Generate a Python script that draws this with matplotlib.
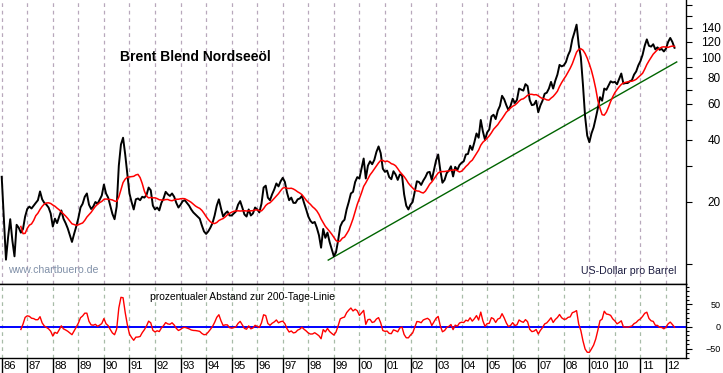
import matplotlib
matplotlib.use("Agg")
import matplotlib.pyplot as plt
import numpy as np
import pandas as pd
from matplotlib.ticker import FixedLocator, NullFormatter

plt.rcParams["font.family"] = ["Liberation Sans", "DejaVu Sans"]

# Brent monthly closes (USD/barrel), Jan 1986 .. May 2012
start_year = 1986
brent_close = [
    26.5, 16.5, 10.5, 13.5, 16.5, 13.0, 10.9, 15.5, 15.0, 14.2, 14.8, 17.0,  # 86
    18.5, 19.0, 18.6, 19.2, 19.8, 20.4, 22.5, 20.6, 19.8, 19.4, 18.8, 17.6,  # 87
    15.2, 16.6, 15.8, 17.0, 18.2, 16.6, 15.8, 14.9, 13.8, 12.8, 14.0, 15.2,  # 88
    16.7, 18.8, 19.6, 21.2, 22.0, 19.4, 18.5, 19.0, 20.0, 19.6, 20.5, 21.5,  # 89
    24.3, 22.0, 21.0, 19.2, 17.5, 16.5, 19.0, 30.0, 38.0, 41.0, 34.0, 27.5,  # 90
    22.0, 20.0, 18.4, 20.6, 20.8, 20.4, 21.2, 21.0, 21.6, 23.5, 22.8, 19.2,  # 91
    18.4, 18.8, 18.2, 19.8, 20.8, 22.4, 21.8, 21.4, 22.0, 21.2, 19.8, 18.8,  # 92
    19.4, 20.2, 20.4, 19.8, 19.2, 18.4, 17.8, 17.4, 17.0, 16.6, 15.4, 14.4,  # 93
    14.0, 14.4, 15.0, 15.8, 17.2, 19.2, 20.6, 18.6, 17.0, 17.6, 18.0, 17.2,  # 94
    17.2, 17.6, 18.0, 19.4, 20.2, 18.8, 17.4, 17.0, 18.4, 17.2, 17.6, 18.8,  # 95
    18.4, 17.8, 19.6, 23.5, 24.0, 21.0, 20.4, 21.8, 23.0, 24.6, 23.8, 25.2,  # 96
    26.2, 25.0, 22.2, 20.4, 21.0, 19.8, 19.8, 20.6, 20.8, 21.4, 19.8, 18.4,  # 97
    17.0, 16.2, 15.8, 16.0, 15.0, 13.8, 12.0, 14.8, 13.4, 14.2, 12.8, 11.8,  # 98
    10.9, 11.4, 13.0, 15.2, 16.0, 16.4, 18.4, 20.0, 22.0, 22.4, 25.0, 26.4,  # 99
    26.0, 29.0, 32.5, 26.0, 30.0, 31.5, 30.5, 32.0, 35.0, 37.2, 34.5, 29.0,  # 00
    28.0, 28.4, 26.4, 25.8, 28.2, 27.2, 25.6, 27.2, 27.0, 21.8, 19.2, 18.4,  # 01
    19.4, 20.0, 22.5, 25.2, 25.0, 24.2, 25.4, 26.4, 27.8, 28.0, 25.6, 28.6,  # 02
    31.8, 34.0, 28.5, 24.8, 25.6, 27.6, 28.4, 29.8, 26.6, 29.6, 28.6, 30.2,  # 03
    31.0, 31.5, 34.0, 34.2, 37.5, 35.8, 39.0, 43.0, 41.0, 50.0, 44.0, 40.0,  # 04
    43.5, 45.0, 52.0, 53.0, 50.5, 55.5, 58.5, 65.5, 63.0, 59.0, 55.8, 58.6,  # 05
    63.4, 60.4, 62.6, 71.0, 70.2, 69.4, 74.6, 73.0, 62.4, 59.0, 59.4, 62.0,  # 06
    54.5, 58.8, 62.0, 67.0, 67.8, 71.0, 76.5, 71.0, 77.5, 83.0, 92.5, 91.0,  # 07
    92.0, 95.5, 103.0, 108.5, 123.0, 133.0, 145.0, 116.0, 101.0, 74.0, 52.0, 42.0,  # 08
    39.0, 43.0, 46.0, 51.0, 57.0, 64.5, 62.0, 71.0, 70.0, 73.5, 77.0, 76.0,  # 09
    76.5, 74.5, 79.0, 84.0, 75.0, 75.5, 75.5, 77.0, 78.0, 83.0, 86.0, 92.0,  # 10
    96.5, 103.5, 114.5, 123.0, 114.5, 113.5, 116.5, 110.0, 112.5, 109.5, 110.5, 107.5,  # 11
    111.0, 119.5, 125.0, 119.5, 112.0,  # 12
]
ma_window = 10  # months, ~200 trading days

# long-term support line (start / end)
trend_years = [1998.78, 2012.42]
trend_prices = [10.45, 95.6]

year_labels = ["86", "87", "88", "89", "90", "91", "92", "93", "94", "95",
               "96", "97", "98", "99", "00", "01", "02", "03", "04", "05",
               "06", "07", "08", "010", "10", "11", "12"]
price_ticks = [20, 40, 60, 80, 100, 120, 140]
price_minor = [10, 30, 50, 70, 90, 160, 180]
osc_ticks = [-50, 0, 50]

t = start_year + np.arange(len(brent_close)) / 12.0
price = pd.Series(brent_close)
ma200 = price.rolling(ma_window).mean()
osc = (price / ma200 - 1.0) * 100.0
years = np.arange(start_year, start_year + len(year_labels))

fig = plt.figure(figsize=(7.23, 3.73), dpi=100)
fig.patch.set_facecolor("white")
ax = fig.add_axes([0, 0.2386, 686 / 723, 0.7614])
ax2 = fig.add_axes([0, 0.0389, 686 / 723, 0.1997], sharex=ax)

# --- price panel
for yr in years:
    ax.axvline(yr, color="#b8a8bc", lw=0.9, ls=(0, (3, 3)), zorder=0)
ax.plot(t, price, color="black", lw=1.4, zorder=3)
ax.plot(t, ma200, color="#ff0000", lw=1.1, zorder=4)
ax.plot(trend_years, trend_prices, color="#006400", lw=1.0, zorder=2)

ax.set_yscale("log")
ax.set_ylim(8.0, 191)
ax.set_xlim(1985.933, 2012.783)
ax.yaxis.tick_right()
ax.yaxis.set_major_locator(FixedLocator(price_ticks))
ax.yaxis.set_minor_locator(FixedLocator(price_minor))
ax.yaxis.set_major_formatter(plt.FuncFormatter(lambda v, p: f"{v:g}"))
ax.yaxis.set_minor_formatter(NullFormatter())
ax.tick_params(axis="y", which="major", length=4, width=0.8, pad=21,
               labelsize=8.5, direction="out")
ax.tick_params(axis="y", which="minor", length=4, width=0.8, direction="out")
for lab in ax.get_yticklabels():
    lab.set_horizontalalignment("right")
ax.tick_params(axis="x", which="both", bottom=False, labelbottom=False)
for side in ("left", "top"):
    ax.spines[side].set_visible(False)
ax.spines["right"].set_linewidth(1.0)
ax.spines["bottom"].set_linewidth(1.0)

ax.text(0.175, 0.80, "Brent Blend Nordseeöl", transform=ax.transAxes,
        fontsize=10, fontweight="bold", ha="left", va="center")
ax.text(0.012, 0.049, "www.chartbuero.de", transform=ax.transAxes,
        fontsize=7.6, color="#8090a8", ha="left", va="center")
ax.text(0.9854, 0.046, "US-Dollar pro Barrel", transform=ax.transAxes,
        fontsize=7.6, color="#1c1c40", ha="right", va="center")

# --- oscillator panel
for yr in years:
    ax2.axvline(yr, color="#a8bca8", lw=0.9, ls=(0, (3, 3)), zorder=0)
ax2.axhline(0, color="#0000ff", lw=1.4, zorder=2)
ax2.plot(t, osc, color="#ff0000", lw=1.0, zorder=3)
ax2.set_ylim(-72, 96)
ax2.yaxis.tick_right()
ax2.yaxis.set_major_locator(FixedLocator(osc_ticks))
ax2.yaxis.set_minor_locator(FixedLocator([-70, -60, -40, -30, -20, -10, 10, 20, 30, 40, 60, 70, 80, 90]))
ax2.yaxis.set_minor_formatter(NullFormatter())
ax2.tick_params(axis="y", which="major", length=4, width=0.8, pad=21,
                labelsize=6.5, direction="out")
ax2.tick_params(axis="y", which="minor", length=2.5, width=0.8, direction="out")
for lab in ax2.get_yticklabels():
    lab.set_horizontalalignment("right")
ax2.spines["left"].set_visible(False)
for side in ("top", "right", "bottom"):
    ax2.spines[side].set_linewidth(1.0)

ax2.xaxis.set_major_locator(FixedLocator(years))
ax2.xaxis.set_minor_locator(FixedLocator([]))
ax2.tick_params(axis="x", which="major", length=11, width=1.0,
                direction="out", labelbottom=False)
for yr, lab in zip(years, year_labels):
    ax2.text(yr + 0.06, -0.105, lab, transform=ax2.get_xaxis_transform(),
             fontsize=8, ha="left", va="center")

ax2.text(0.219, 0.83, "prozentualer Abstand zur 200-Tage-Linie",
         transform=ax2.transAxes, fontsize=7.4, ha="left", va="center")

fig.savefig("out.png", dpi=100, facecolor="white")
